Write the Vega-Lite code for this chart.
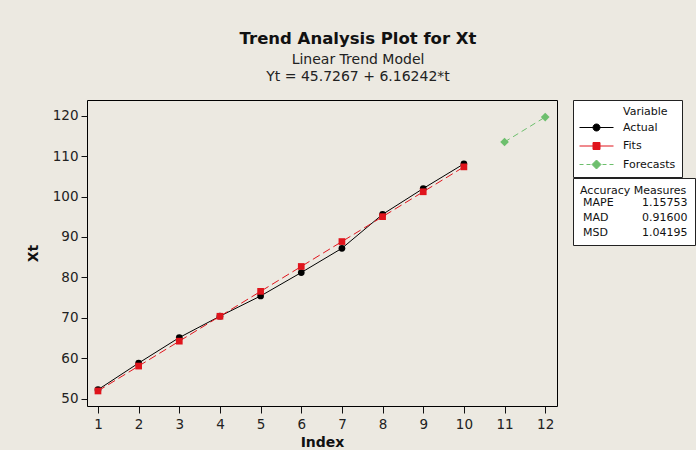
{
  "$schema": "https://vega.github.io/schema/vega-lite/v6.json",
  "width": 470,
  "height": 306,
  "autosize": {"type": "none"},
  "padding": {"left": 87, "top": 100, "right": 139, "bottom": 44},
  "background": "#ECE9E1",
  "title": {
    "text": "Trend Analysis Plot for Xt",
    "subtitle": ["Linear Trend Model", "Yt = 45.7267 + 6.16242*t"],
    "anchor": "middle",
    "frame": "group",
    "dx": 36,
    "offset": 16,
    "font": "DejaVu Sans",
    "fontSize": 16.5,
    "fontWeight": "bold",
    "color": "#111111",
    "subtitleFont": "DejaVu Sans",
    "subtitleFontSize": 14,
    "subtitleColor": "#222222",
    "subtitleLineHeight": 17,
    "subtitlePadding": 5
  },
  "config": {
    "view": {"fill": "white", "stroke": "black", "strokeWidth": 1},
    "axis": {
      "domain": false,
      "grid": false,
      "ticks": true,
      "tickColor": "#111111",
      "labelFont": "DejaVu Sans",
      "labelFontSize": 13.5,
      "labelColor": "#222222",
      "titleFont": "DejaVu Sans",
      "titleFontSize": 14,
      "titleFontWeight": "bold",
      "titleColor": "#111111"
    },
    "legend": {
      "titleFont": "DejaVu Sans",
      "labelFont": "DejaVu Sans",
      "titleFontSize": 11,
      "labelFontSize": 11,
      "titleFontWeight": "normal",
      "titleColor": "#111111",
      "labelColor": "#111111",
      "strokeColor": "#222222",
      "fillColor": "white"
    }
  },
  "datasets": {
    "trend": [
      {"t": 1, "value": 52.2, "series": "Actual"},
      {"t": 2, "value": 58.8, "series": "Actual"},
      {"t": 3, "value": 65.1, "series": "Actual"},
      {"t": 4, "value": 70.4, "series": "Actual"},
      {"t": 5, "value": 75.4, "series": "Actual"},
      {"t": 6, "value": 81.2, "series": "Actual"},
      {"t": 7, "value": 87.2, "series": "Actual"},
      {"t": 8, "value": 95.6, "series": "Actual"},
      {"t": 9, "value": 102.0, "series": "Actual"},
      {"t": 10, "value": 108.1, "series": "Actual"},
      {"t": 1, "value": 51.889, "series": "Fits"},
      {"t": 2, "value": 58.052, "series": "Fits"},
      {"t": 3, "value": 64.214, "series": "Fits"},
      {"t": 4, "value": 70.376, "series": "Fits"},
      {"t": 5, "value": 76.539, "series": "Fits"},
      {"t": 6, "value": 82.701, "series": "Fits"},
      {"t": 7, "value": 88.864, "series": "Fits"},
      {"t": 8, "value": 95.026, "series": "Fits"},
      {"t": 9, "value": 101.188, "series": "Fits"},
      {"t": 10, "value": 107.351, "series": "Fits"},
      {"t": 11, "value": 113.513, "series": "Forecasts"},
      {"t": 12, "value": 119.676, "series": "Forecasts"}
    ],
    "accuracy": [
      {"measure": "MAPE", "value": "1.15753"},
      {"measure": "MAD", "value": "0.91600"},
      {"measure": "MSD", "value": "1.04195"}
    ]
  },
  "layer": [
    {
      "data": {"name": "trend"},
      "encoding": {
        "x": {
          "field": "t",
          "type": "quantitative",
          "scale": {"domain": [0.73, 12.29], "nice": false, "zero": false},
          "axis": {"values": [1, 2, 3, 4, 5, 6, 7, 8, 9, 10, 11, 12], "format": "d", "tickSize": 7, "labelPadding": 4, "title": "Index", "titlePadding": 5}
        },
        "y": {
          "field": "value",
          "type": "quantitative",
          "scale": {"domain": [48.17, 123.9], "nice": false, "zero": false},
          "axis": {"values": [50, 60, 70, 80, 90, 100, 110, 120], "tickSize": 6, "labelPadding": 3, "title": "Xt", "titlePadding": 12}
        },
        "color": {
          "field": "series",
          "type": "nominal",
          "scale": {"domain": ["Actual", "Fits", "Forecasts"], "range": ["#000000", "#E0141C", "#6DBF6D"]},
          "legend": {
            "orient": "none",
            "legendX": 486,
            "legendY": 0,
            "title": "Variable",
            "padding": 6,
            "symbolSize": 100,
            "symbolOffset": 12,
            "symbolStrokeWidth": 1,
            "labelOffset": 21,
            "rowPadding": 6.5,
            "labelExpr": "datum.label + '\u00a0\u00a0\u00a0\u00a0\u00a0\u00a0\u00a0\u00a0'",
            "encode": {
              "symbols": {
                "update": {
                  "shape": {"signal": "datum.value === 'Actual' ? 'M-3.4,0L3.4,0M0.7,0A0.7,0.7,0,1,1,-0.7,0A0.7,0.7,0,1,1,0.7,0Z' : datum.value === 'Fits' ? 'M-3.4,0L3.4,0M-0.7,-0.7L0.7,-0.7L0.7,0.7L-0.7,0.7Z' : 'M-3.4,0L-2.6,0M-2,0L-1.2,0M1.2,0L2,0M2.6,0L3.4,0M0,-0.9L0.9,0L0,0.9L-0.9,0Z'"},
                  "fill": {"scale": "color", "field": "value"},
                  "stroke": {"scale": "color", "field": "value"},
                  "strokeWidth": {"value": 1},
                  "size": {"value": 100},
                  "opacity": {"value": 1}
                }
              },
              "title": {"update": {"dx": {"value": 44}}}
            }
          }
        }
      },
      "layer": [
        {
          "transform": [{"filter": "datum.series === 'Actual'"}],
          "mark": {"type": "line", "strokeWidth": 1}
        },
        {
          "transform": [{"filter": "datum.series === 'Fits'"}],
          "mark": {"type": "line", "strokeWidth": 1, "strokeDash": [8, 4]}
        },
        {
          "transform": [{"filter": "datum.series === 'Forecasts'"}],
          "mark": {"type": "line", "strokeWidth": 1, "strokeDash": [6, 4]}
        },
        {
          "transform": [{"filter": "datum.series === 'Actual'"}],
          "mark": {"type": "point", "shape": "circle", "filled": true, "size": 45, "opacity": 1}
        },
        {
          "transform": [{"filter": "datum.series === 'Fits'"}],
          "mark": {"type": "point", "shape": "square", "filled": true, "size": 45, "opacity": 1}
        },
        {
          "transform": [{"filter": "datum.series === 'Forecasts'"}],
          "mark": {"type": "point", "shape": "diamond", "filled": true, "size": 75, "opacity": 1}
        }
      ]
    },
    {
      "data": {"name": "accuracy"},
      "transform": [{"fold": ["measure", "value"], "as": ["col", "cell"]}],
      "mark": {"type": "point", "filled": true, "size": 0, "opacity": 0},
      "encoding": {
        "shape": {
          "field": "cell",
          "type": "nominal",
          "sort": null,
          "legend": {
            "orient": "none",
            "direction": "horizontal",
            "legendX": 486,
            "legendY": 78,
            "title": "Accuracy Measures",
            "titlePadding": 1,
            "columns": 2,
            "columnPadding": 25,
            "rowPadding": 3,
            "padding": 7,
            "symbolSize": 0,
            "symbolOpacity": 0,
            "symbolStrokeWidth": 0,
            "labelOffset": -8,
            "encode": {"title": {"update": {"dx": {"value": 5}}}}
          }
        }
      }
    }
  ]
}
